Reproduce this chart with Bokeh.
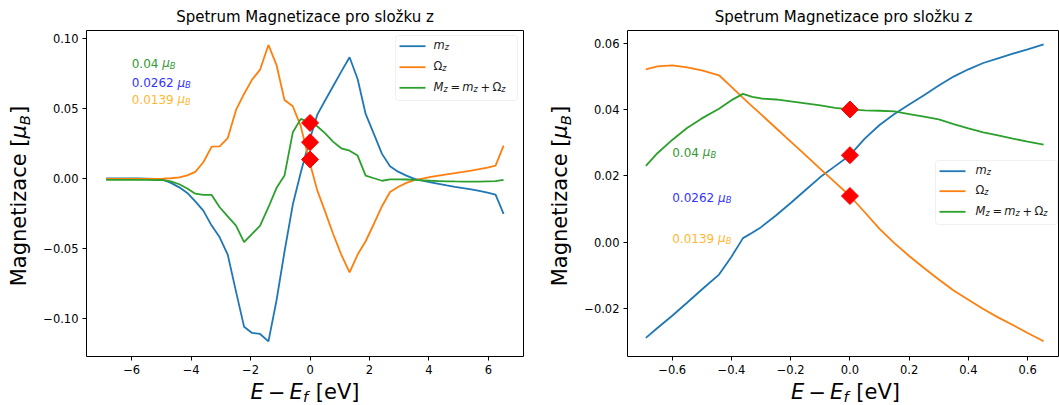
import math
from bokeh.plotting import figure
from bokeh.layouts import row, column
from bokeh.models import Label, BoxAnnotation, FixedTicker, Range1d, CustomJSTickFormatter
from bokeh.embed import file_html
from bokeh.resources import INLINE

FONT = "DejaVu Sans"
BLUE, ORANGE, GREEN = "#1f77b4", "#ff7f0e", "#2ca02c"
TITLE = "Spetrum Magnetizace pro složku z"

# ---------------- data: full energy window ----------------
E_full = [-6.86, -6.59, -6.31, -6.04, -5.77, -5.50, -5.22, -4.95, -4.68, -4.40,
          -4.13, -3.86, -3.59, -3.31, -3.04, -2.77, -2.49, -2.22, -1.95, -1.68,
          -1.40, -1.13, -0.86, -0.58, -0.31, -0.04, 0.24, 0.51, 0.78, 1.05,
          1.33, 1.60, 1.87, 2.15, 2.42, 2.69, 2.96, 3.24, 3.51, 3.78,
          4.06, 4.33, 4.60, 4.87, 5.15, 5.42, 5.69, 5.97, 6.24, 6.51]
mz_full = [0.0003, 0.0003, 0.0003, 0.0003, 0.0003, 0.0002, 0.0001, -0.0005, -0.0028, -0.0060,
           -0.0100, -0.0160, -0.0226, -0.0333, -0.0417, -0.0540, -0.0805, -0.1055, -0.1100, -0.1107,
           -0.1160, -0.0870, -0.0520, -0.0183, 0.0048, 0.0260, 0.0457, 0.0562, 0.0664, 0.0766,
           0.0869, 0.0714, 0.0464, 0.0320, 0.0179, 0.0090, 0.0052, 0.0024, 0.0000, -0.0012,
           -0.0024, -0.0035, -0.0046, -0.0056, -0.0066, -0.0075, -0.0085, -0.0097, -0.0112, -0.0250]
om_full = [0.0, 0.0, 0.0, 0.0, 0.0, 0.0001, 0.0001, 0.0002, 0.0005, 0.0011,
           0.0025, 0.0050, 0.0119, 0.0231, 0.0232, 0.0291, 0.0493, 0.0607, 0.0709, 0.0781,
           0.0957, 0.0815, 0.0564, 0.0519, 0.0375, 0.0140, -0.0080, -0.0235, -0.0395, -0.0540,
           -0.0667, -0.0540, -0.0445, -0.0320, -0.0195, -0.0093, -0.0058, -0.0028, -0.0008, 0.0003,
           0.0014, 0.0024, 0.0033, 0.0042, 0.0051, 0.0060, 0.0070, 0.0081, 0.0095, 0.0238]
Mz_full = [-0.0007, -0.0007, -0.0007, -0.0007, -0.0007, -0.0007, -0.0008, -0.0009, -0.0018, -0.0038,
           -0.0068, -0.0105, -0.0114, -0.0114, -0.0202, -0.0267, -0.0333, -0.0452, -0.0393, -0.0333,
           -0.0202, -0.0065, 0.0024, 0.0333, 0.0429, 0.0405, 0.0376, 0.0325, 0.0265, 0.0219,
           0.0202, 0.0167, 0.0024, 0.0005, -0.0013, -0.0003, -0.0003, -0.0004, -0.0007, -0.0010,
           -0.0013, -0.0015, -0.0017, -0.0018, -0.0019, -0.0019, -0.0019, -0.0017, -0.0016, -0.0007]

# ---------------- data: zoom around the Fermi level ----------------
E_zoom = [-0.689, -0.65, -0.60, -0.55, -0.50, -0.442, -0.40, -0.361, -0.33, -0.30,
          -0.25, -0.20, -0.15, -0.10, -0.05, 0.0, 0.05, 0.10, 0.15, 0.20,
          0.25, 0.30, 0.35, 0.40, 0.45, 0.50, 0.55, 0.60, 0.654]
mz_zoom = [-0.0289, -0.0259, -0.0222, -0.0183, -0.0143, -0.0098, -0.0044, 0.0012, 0.0028, 0.0045,
           0.0080, 0.0118, 0.0157, 0.0196, 0.0229, 0.0262, 0.0312, 0.0353, 0.0386, 0.0415,
           0.0443, 0.0472, 0.0499, 0.0521, 0.0540, 0.0554, 0.0568, 0.0581, 0.0596]
om_zoom = [0.0521, 0.0530, 0.0533, 0.0527, 0.0518, 0.0503, 0.0468, 0.0435, 0.0409, 0.0385,
           0.0344, 0.0303, 0.0262, 0.0221, 0.0180, 0.0139, 0.0090, 0.0040, -0.0003, -0.0042,
           -0.0078, -0.0113, -0.0146, -0.0174, -0.0202, -0.0227, -0.0250, -0.0274, -0.0299]
Mz_zoom = [0.0230, 0.0268, 0.0308, 0.0344, 0.0373, 0.0402, 0.0428, 0.0447, 0.0438, 0.0433,
           0.0430, 0.0424, 0.0418, 0.0412, 0.0405, 0.0400, 0.0397, 0.0396, 0.0394, 0.0386,
           0.0378, 0.0370, 0.0356, 0.0343, 0.0331, 0.0322, 0.0312, 0.0303, 0.0294]

# values at the Fermi level (annotations and red diamonds)
Ef_x = [0.0, 0.0, 0.0]
Ef_vals = [0.04, 0.0262, 0.0139]
Ef_texts = ["0.04", "0.0262", "0.0139"]
Ef_colors = ["#339933", "#3333ff", "#ffb733"]

# tick values
xt_full = [-6, -4, -2, 0, 2, 4, 6]
yt_full = [-0.10, -0.05, 0.0, 0.05, 0.10]
xt_zoom = [-0.6, -0.4, -0.2, 0.0, 0.2, 0.4, 0.6]
yt_zoom = [-0.02, 0.0, 0.02, 0.04, 0.06]

# ---------------- text helpers (DejaVu Sans advance widths, em) ----------------
WIDTHS = {
    "0": 0.636, "1": 0.636, "2": 0.636, "3": 0.636, "4": 0.636, "5": 0.636, "6": 0.636,
    "7": 0.636, "8": 0.636, "9": 0.636, ".": 0.318, " ": 0.318, "M": 0.863, "a": 0.613,
    "g": 0.635, "n": 0.634, "e": 0.615, "t": 0.392, "i": 0.278, "z": 0.525, "c": 0.550,
    "[": 0.390, "]": 0.390, "μ": 0.636, "B": 0.686, "E": 0.632, "f": 0.352, "−": 0.838,
    "V": 0.684, "m": 0.974, "Ω": 0.770, "=": 0.838, "+": 0.838,
}
BASE_FIX = 0.37  # empirical raise (in em) of the alphabetic baseline

PAGE_H = 405
MAIN_H = 380


def text_w(s, size):
    return sum(WIDTHS.get(ch, 0.62) for ch in s) * size


class Frame:
    def __init__(self, left, top, w, h, xr, yr):
        self.left, self.top, self.w, self.h, self.xr, self.yr = left, top, w, h, xr, yr

    def x(self, px):
        return self.xr[0] + (px - self.left) / self.w * (self.xr[1] - self.xr[0])

    def y(self, py):
        return self.yr[1] - (py - self.top) / self.h * (self.yr[1] - self.yr[0])


def rich(p, x, y, parts, angle=0.0, center=False):
    """parts: (text, size, italic, drop_px, gap_after_px, color)"""
    total = sum(text_w(t, s) + g for t, s, it, d, g, c in parts)
    pos = -total / 2 if center else 0.0
    base = BASE_FIX * parts[0][1]
    for t, s, it, d, g, c in parts:
        if angle == 0:
            xo, yo = pos, -d + base
        else:
            xo, yo = d - base, pos
        p.add_layout(Label(x=x, y=y, x_offset=xo, y_offset=yo,
                           text=t, angle=angle,
                           text_font=FONT, text_font_size="%.1fpx" % s,
                           text_font_style="italic" if it else "normal",
                           text_color=c, text_align="left", text_baseline="alphabetic"))
        pos += text_w(t, s) + g


def sub(t, F, c, gap=0.0):
    return (t, F * 0.7, True, F * 0.22, F * 0.05 + gap, c)


def legend_parts(F):
    k = "#1a1a1a"
    sp = 0.2 * 0.974 * F
    return [
        [("m", F, True, 0, 0, k), sub("z", F, k)],
        [("Ω", F, False, 0, 0, k), sub("z", F, k)],
        [("M", F, True, 0, 0, k), sub("z", F, k, sp), ("=", F, False, 0, sp, k),
         ("m", F, True, 0, 0, k), sub("z", F, k, sp), ("+", F, False, 0, sp, k),
         ("Ω", F, False, 0, 0, k), sub("z", F, k)],
    ]


def blank_fig(w, h):
    """Pixel-unit canvas used for the axis titles (x: from left, y: from bottom)."""
    p = figure(width=w, height=h, x_range=Range1d(0, w), y_range=Range1d(0, h),
               output_backend="svg", toolbar_location=None, x_axis_type=None, y_axis_type=None,
               min_border=0)
    p.outline_line_color = None
    p.grid.visible = False
    p.background_fill_color = "white"
    p.border_fill_color = "white"
    return p


F_LAB = 21


def ylabel_fig(w, base_x):
    p = blank_fig(w, MAIN_H)
    k = "black"
    parts = [("Magnetizace [", F_LAB, False, 0, 0, k), ("μ", F_LAB, True, 0, 0, k),
             sub("B", F_LAB, k), ("]", F_LAB, False, 0, 0, k)]
    rich(p, base_x, MAIN_H - 193, parts, angle=math.pi / 2, center=True)
    return p


def xlabel_fig(w, cx):
    p = blank_fig(w, PAGE_H - MAIN_H)
    k = "black"
    sp = 0.2 * 0.974 * F_LAB
    parts = [("E", F_LAB, True, 0, sp, k), ("−", F_LAB, False, 0, sp, k),
             ("E", F_LAB, True, 0, 0, k), sub("f", F_LAB, k, 0.318 * F_LAB),
             ("[eV]", F_LAB, False, 0, 0, k)]
    rich(p, cx, PAGE_H - 399, parts, center=True)
    return p


def make_fig(width, bl, br, xr, yr, xt, yt, xdig, ydig):
    p = figure(width=width, height=MAIN_H, x_range=Range1d(*xr), y_range=Range1d(*yr),
               output_backend="svg", toolbar_location=None, title=TITLE,
               min_border_left=bl, min_border_right=br, min_border_top=30,
               min_border_bottom=MAIN_H - 356)
    p.background_fill_color = "white"
    p.border_fill_color = "white"
    p.grid.visible = False
    p.outline_line_color = "black"
    p.outline_line_width = 1
    p.title.text_font = FONT
    p.title.text_font_size = "15px"
    p.title.text_font_style = "normal"
    p.title.text_color = "black"
    p.title.align = "center"
    p.title.standoff = 9
    for ax, ticks, dig in ((p.xaxis[0], xt, xdig), (p.yaxis[0], yt, ydig)):
        ax.ticker = FixedTicker(ticks=ticks)
        ax.formatter = CustomJSTickFormatter(
            code="return tick.toFixed(%d).replace('-', '\u2212');" % dig)
        ax.axis_line_color = None
        ax.major_tick_out = 4
        ax.major_tick_in = 0
        ax.minor_tick_out = 0
        ax.minor_tick_in = 0
        ax.major_tick_line_color = "black"
        ax.major_label_standoff = 4
        ax.major_label_text_font = FONT
        ax.major_label_text_font_size = "11.5px"
        ax.major_label_text_color = "black"
    return p


def draw(p, fr, E, mz, om, Mz, ann_x, ann_y, leg_box, leg_rows, leg_line, leg_text):
    p.line(E, mz, color=BLUE, line_width=1.8)
    p.line(E, om, color=ORANGE, line_width=1.8)
    p.line(E, Mz, color=GREEN, line_width=1.8)
    p.scatter(Ef_x, Ef_vals, marker="square", angle=math.pi / 4, size=12,
              color="red", line_color="red")
    for t, yy, c in zip(Ef_texts, ann_y, Ef_colors):
        rich(p, ann_x, yy, [(t, 12, False, 0, 0.318 * 12, c), ("μ", 12, True, 0, 0, c),
                            sub("B", 12, c)])
    l, r, t, b = leg_box
    p.add_layout(BoxAnnotation(left=fr.x(l), right=fr.x(r), top=fr.y(t), bottom=fr.y(b),
                               fill_color="white", fill_alpha=0.8, line_color="#cccccc",
                               line_width=1, border_radius=3))
    for ry, col, parts in zip(leg_rows, [BLUE, ORANGE, GREEN], legend_parts(11.5)):
        p.line([fr.x(leg_line[0]), fr.x(leg_line[1])], [fr.y(ry), fr.y(ry)],
               color=col, line_width=1.8, level="overlay")
        rich(p, fr.x(leg_text), fr.y(ry + 3.5), parts)


# ---------------- left: full window (page x 0..530) ----------------
YL1_W = 40
xr1, yr1 = (-7.52, 7.18), (-0.1268, 0.1060)
p1 = make_fig(530 - YL1_W, 86 - YL1_W, 7, xr1, yr1, xt_full, yt_full, 0, 2)
fr1 = Frame(86, 30, 437, 326, xr1, yr1)
draw(p1, fr1, E_full, mz_full, om_full, Mz_full, -6.0, [0.0794, 0.0655, 0.0536],
     (395, 517, 35, 100), [45.7, 66.7, 87.3], (399, 425), 433)
left_block = column(row(ylabel_fig(YL1_W, 26.7), p1), xlabel_fig(530, 304.5))

# ---------------- right: zoom around E_f (page x 530..1059) ----------------
YL2_W = 50
xr2, yr2 = (-0.751, 0.7075), (-0.0345, 0.0638)
p2 = make_fig(529 - YL2_W, 627 - 530 - YL2_W, 0, xr2, yr2, xt_zoom, yt_zoom, 1, 2)
fr2 = Frame(627, 30, 432, 326, xr2, yr2)
draw(p2, fr2, E_zoom, mz_zoom, om_zoom, Mz_zoom, -0.60, [0.0257, 0.0121, -0.0002],
     (935, 1057, 160, 224), [170.7, 190.7, 211.3], (939, 965), 975)
right_block = column(row(ylabel_fig(YL2_W, 567.7 - 530), p2), xlabel_fig(529, 845 - 530))

layout = row(left_block, right_block)
open("out.html", "w").write(file_html(layout, INLINE))
